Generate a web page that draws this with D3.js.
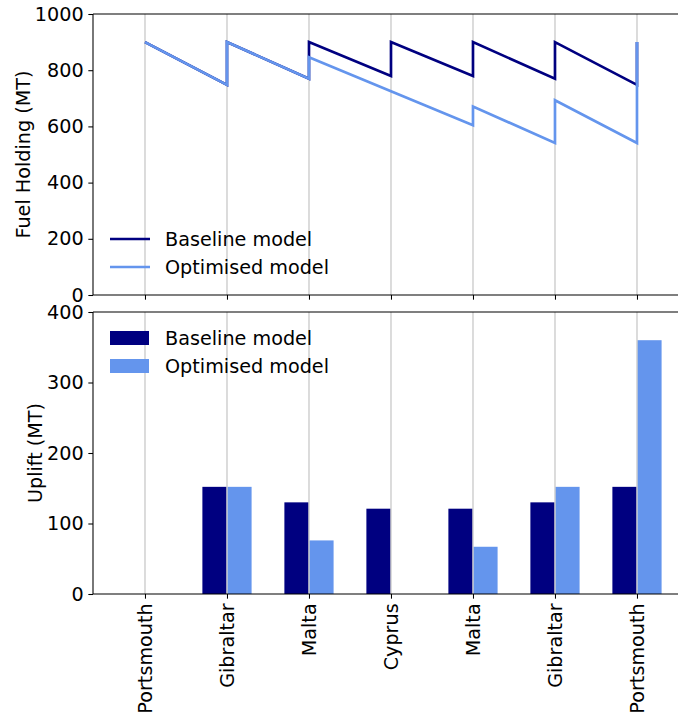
<!DOCTYPE html>
<html>
<head>
<meta charset="utf-8">
<script src="https://cdn.jsdelivr.net/npm/d3@7"></script>
<style>
  html, body { margin: 0; padding: 0; background: #fff; }
  svg { display: block; font-family: "DejaVu Sans", sans-serif; }
</style>
</head>
<body>
<svg id="chart" width="678" height="713"></svg>
<script>
// ---- Data ----
const ports = ["Portsmouth", "Gibraltar", "Malta", "Cyprus", "Malta", "Gibraltar", "Portsmouth"];
const seriesNames = ["Baseline model", "Optimised model"];
const seriesColors = ["#000080", "#6495ED"];

// Fuel holding path (x = port index, value in MT)
const baselineX    = [0, 1, 1, 2, 2, 3, 3, 4, 4, 5, 5, 6, 6];
const baselineFuel = [900, 748, 900, 770, 900, 779, 900, 779, 900, 770, 900, 748, 900];
const optimisedX    = [0, 1, 1, 2, 2, 3, 4, 4, 5, 5, 6, 6];
const optimisedFuel = [900, 748, 900, 770, 846, 725, 604, 671, 541, 693, 541, 900];

// Uplift per port (MT)
const baselineUplift  = [0, 152, 130, 121, 121, 130, 152];
const optimisedUplift = [0, 152, 76, 0, 67, 152, 360];

const fuelTicks   = [0, 200, 400, 600, 800, 1000];
const upliftTicks = [0, 100, 200, 300, 400];

// ---- Layout ----
const svg = d3.select("#chart");
const FS = 19.2;
const LW = 2.67;
const left = 93;
const top1 = 14, bot1 = 295;
const top2 = 312, bot2 = 594;

const x = d3.scaleLinear().domain([-0.634, 6.634]).range([left, left + 7.268 * 82]);
const y1 = d3.scaleLinear().domain([0, 1000]).range([bot1, top1]);
const y2 = d3.scaleLinear().domain([0, 400]).range([bot2, top2]);
const rightEdge = x(6.634);
const idx = d3.range(ports.length);
const barW = 0.3;

function grid(g, yTop, yBot) {
  g.selectAll("line.grid").data(idx).join("line")
    .attr("class", "grid")
    .attr("x1", d => x(d)).attr("x2", d => x(d))
    .attr("y1", yTop).attr("y2", yBot)
    .attr("stroke", "#d0d0d0").attr("stroke-width", 1.5);
}

function axes(g, yScale, ticks, yTop, yBot, showLabels, label, labelX) {
  const ya = d3.axisLeft(yScale).tickValues(ticks).tickSize(4.67).tickPadding(4.67).tickFormat(d3.format("d"));
  const gy = g.append("g").attr("transform", `translate(${left},0)`).call(ya);
  gy.select(".domain").remove();
  gy.selectAll("line").attr("stroke", "#000").attr("stroke-width", 1.07);
  gy.selectAll("text").attr("font-size", FS).attr("fill", "#000").attr("font-family", "DejaVu Sans");

  const xa = d3.axisBottom(x).tickValues(idx).tickSize(4.67).tickPadding(4.67)
    .tickFormat(i => showLabels ? ports[i] : "");
  const gx = g.append("g").attr("transform", `translate(0,${yBot})`).call(xa);
  gx.select(".domain").remove();
  gx.selectAll("line").attr("stroke", "#000").attr("stroke-width", 1.07);
  if (showLabels) {
    gx.selectAll(".tick text")
      .attr("font-size", FS).attr("fill", "#000").attr("font-family", "DejaVu Sans")
      .attr("text-anchor", "end")
      .attr("dy", null)
      .attr("x", 0).attr("y", 0)
      .attr("dominant-baseline", "central")
      .attr("transform", `translate(0,${4.67 + 4.67}) rotate(-90)`);
  }

  // spines
  const spine = (x1, x2, y1_, y2_) => g.append("line")
    .attr("x1", x1).attr("x2", x2).attr("y1", y1_).attr("y2", y2_)
    .attr("stroke", "#000").attr("stroke-width", 1.07);
  spine(left, left, yTop, yBot);
  spine(left, rightEdge, yTop, yTop);
  spine(left, rightEdge, yBot, yBot);
  spine(rightEdge, rightEdge, yTop, yBot);

  g.append("text")
    .attr("transform", `translate(${labelX},${(yTop + yBot) / 2}) rotate(-90)`)
    .attr("text-anchor", "middle").attr("dominant-baseline", "central")
    .attr("font-size", FS).attr("fill", "#000")
    .text(label);
}

// ---- Top panel: fuel holding ----
const g1 = svg.append("g");
grid(g1, top1, bot1);
const line = d3.line().x(d => x(d[0])).y(d => y1(d[1]));
const baselinePts = baselineX.map((v, i) => [v, baselineFuel[i]]);
const optimisedPts = optimisedX.map((v, i) => [v, optimisedFuel[i]]);
g1.append("path").datum(baselinePts).attr("d", line)
  .attr("fill", "none").attr("stroke", seriesColors[0]).attr("stroke-width", LW);
g1.append("path").datum(optimisedPts).attr("d", line)
  .attr("fill", "none").attr("stroke", seriesColors[1]).attr("stroke-width", LW);
axes(g1, y1, fuelTicks, top1, bot1, false, "Fuel Holding (MT)", 23);

// legend (lines)
const leg1 = g1.append("g");
seriesNames.forEach((name, i) => {
  const yy = 239 + i * 28;
  leg1.append("line").attr("x1", 110).attr("x2", 150).attr("y1", yy).attr("y2", yy)
    .attr("stroke", seriesColors[i]).attr("stroke-width", LW);
  leg1.append("text").attr("x", 165).attr("y", yy).attr("dominant-baseline", "central")
    .attr("font-size", FS).attr("fill", "#000").text(name);
});

// ---- Bottom panel: uplift ----
const g2 = svg.append("g");
g2.selectAll("rect.base").data(idx).join("rect")
  .attr("class", "base")
  .attr("x", i => x(i - barW)).attr("width", i => x(i) - x(i - barW))
  .attr("y", i => y2(baselineUplift[i])).attr("height", i => y2(0) - y2(baselineUplift[i]))
  .attr("fill", seriesColors[0]);
g2.selectAll("rect.opt").data(idx).join("rect")
  .attr("class", "opt")
  .attr("x", i => x(i)).attr("width", i => x(i + barW) - x(i))
  .attr("y", i => y2(optimisedUplift[i])).attr("height", i => y2(0) - y2(optimisedUplift[i]))
  .attr("fill", seriesColors[1]);
grid(g2, top2, bot2);
axes(g2, y2, upliftTicks, top2, bot2, true, "Uplift (MT)", 35);

// legend (patches)
const leg2 = g2.append("g");
seriesNames.forEach((name, i) => {
  const yy = 338 + i * 28;
  leg2.append("rect").attr("x", 110).attr("y", yy - 7).attr("width", 39).attr("height", 14)
    .attr("fill", seriesColors[i]);
  leg2.append("text").attr("x", 165).attr("y", yy).attr("dominant-baseline", "central")
    .attr("font-size", FS).attr("fill", "#000").text(name);
});
</script>
</body>
</html>
